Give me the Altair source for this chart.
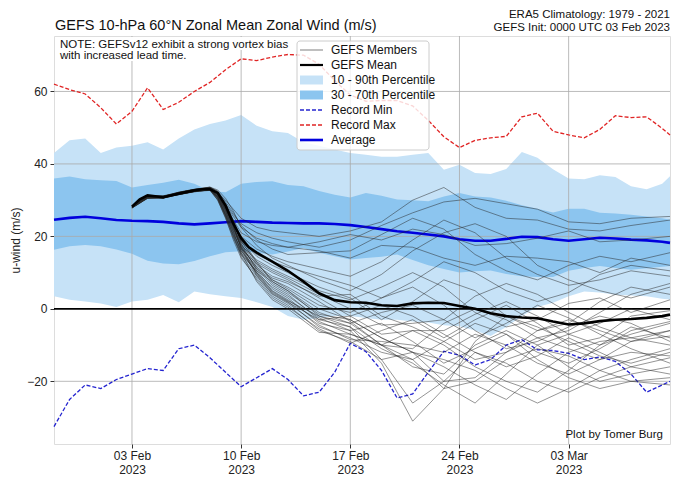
import altair as alt
import pandas as pd

FONT = "Liberation Sans, Arial, sans-serif"

# ---------------- climatology (daily, 29 Jan .. 09 Mar 12Z) ----------------
clim_dates = ([f"2023-01-{d:02d}T00:00:00" for d in range(29, 32)]
              + [f"2023-02-{d:02d}T00:00:00" for d in range(1, 29)]
              + [f"2023-03-{d:02d}T00:00:00" for d in range(1, 10)]
              + ["2023-03-09T12:00:00"])
p10 = [3.5, 2.5, 2.0, 1.5, 0.5, 2.0, 2.5, 3.8, 1.8, 4.8, 4.0, 3.5, 3.0, 1.8, 0.5,
       -2.0, -3.0, -2.5, -2.0, -2.0, -2.5, -3.0, -3.0, -3.5, -3.8, -4.5, -4.8, -6.0,
       -7.5, -5.0, -2.0, 0.5, 1.7, 3.5, 4.8, 4.5, 3.9, 3.7, 3.5, 2.8, 2.6]
p30 = [16.3, 17.3, 17.6, 17.3, 16.4, 15.2, 13.3, 12.5, 12.3, 13.2, 14.5, 15.6, 15.9,
       15.5, 15.0, 15.8, 16.8, 15.5, 14.5, 13.6, 14.0, 14.4, 15.0, 13.5, 12.0, 11.0,
       10.0, 10.4, 10.6, 9.6, 9.0, 8.8, 8.8, 10.5, 11.3, 11.8, 11.3, 10.8, 11.2, 11.6, 11.8]
p70 = [36.0, 36.5, 35.8, 35.5, 35.3, 33.5, 34.2, 34.8, 35.6, 34.5, 32.5, 32.2, 34.5,
       35.0, 35.2, 34.2, 33.8, 32.5, 31.5, 30.7, 32.0, 31.2, 30.2, 30.0, 29.7, 31.0,
       32.0, 31.0, 30.7, 29.8, 28.6, 27.6, 26.6, 27.6, 27.6, 26.5, 26.3, 26.0, 25.5, 25.0, 24.6]
p90 = [43.0, 46.5, 47.0, 43.0, 44.5, 45.0, 46.0, 44.0, 47.0, 49.5, 51.0, 52.0, 53.5,
       50.5, 49.0, 48.5, 46.0, 45.0, 44.0, 43.0, 42.5, 42.0, 42.0, 42.5, 43.0, 38.4,
       39.8, 37.5, 37.2, 38.6, 43.3, 41.7, 38.5, 36.0, 35.8, 36.9, 36.4, 33.8, 33.0, 34.5, 36.6]
avg = [24.6, 25.1, 25.4, 25.0, 24.5, 24.3, 24.2, 24.0, 23.6, 23.3, 23.6, 23.9, 24.2,
       24.0, 23.8, 23.7, 23.6, 23.6, 23.4, 23.1, 22.6, 22.0, 21.4, 21.0, 20.5, 20.0,
       19.2, 18.8, 18.8, 19.3, 19.9, 19.8, 19.2, 18.8, 19.2, 19.6, 19.4, 19.1, 18.9, 18.5, 18.2]
rmin = [-32.5, -25.0, -21.0, -22.0, -19.5, -18.0, -16.5, -17.0, -11.0, -10.0, -13.5,
        -17.5, -21.5, -19.0, -16.5, -19.5, -24.0, -23.0, -17.5, -9.5, -11.8, -17.0,
        -24.6, -23.5, -17.5, -11.7, -12.8, -15.5, -14.0, -10.0, -8.5, -11.3, -11.5,
        -12.3, -14.0, -13.3, -14.5, -18.0, -23.0, -21.0, -20.0]
rmax = [62.0, 60.5, 59.3, 55.5, 51.0, 54.5, 61.0, 55.0, 57.0, 60.0, 62.5, 66.0, 69.0,
        68.5, 69.5, 70.2, 70.0, 67.5, 63.0, 59.0, 57.3, 57.5, 57.5, 56.0, 52.0, 47.5,
        44.5, 46.5, 47.2, 47.6, 53.0, 54.0, 49.0, 48.0, 47.2, 49.5, 53.3, 52.8, 53.0, 49.8, 48.0]

# ---------------- GEFS mean ----------------
mean_dates = (["2023-02-03T00:00:00", "2023-02-03T12:00:00", "2023-02-04T00:00:00",
               "2023-02-05T00:00:00", "2023-02-06T00:00:00", "2023-02-07T00:00:00",
               "2023-02-07T12:00:00", "2023-02-08T00:00:00", "2023-02-08T12:00:00",
               "2023-02-09T00:00:00", "2023-02-09T12:00:00", "2023-02-10T00:00:00",
               "2023-02-10T12:00:00", "2023-02-11T00:00:00"]
              + [f"2023-02-{d:02d}T00:00:00" for d in range(12, 29)]
              + [f"2023-03-{d:02d}T00:00:00" for d in range(1, 10)]
              + ["2023-03-09T12:00:00"])
gefs_mean = [28.2, 30.2, 31.3, 30.8, 31.8, 32.7, 33.0, 33.0, 32.0, 28.5, 23.5, 19.5,
             17.0, 15.5, 13.0, 10.5, 7.5, 4.3, 2.4, 1.8, 1.7, 1.0, 0.8, 1.5, 1.7, 1.6,
             0.8, 0.0, -1.2, -2.0, -2.4, -2.6, -3.5, -4.3, -4.0, -3.4, -3.0, -2.8, -2.5,
             -2.0, -1.6]

# ---------------- GEFS members ----------------
member_dates = ["2023-02-03T00:00:00", "2023-02-04T00:00:00", "2023-02-05T00:00:00",
                "2023-02-06T00:00:00", "2023-02-07T00:00:00", "2023-02-08T00:00:00",
                "2023-02-08T12:00:00", "2023-02-09T00:00:00", "2023-02-09T12:00:00",
                "2023-02-10T00:00:00", "2023-02-11T00:00:00", "2023-02-12T00:00:00",
                "2023-02-13T00:00:00", "2023-02-15T00:00:00", "2023-02-17T00:00:00",
                "2023-02-19T00:00:00", "2023-02-21T00:00:00", "2023-02-23T00:00:00",
                "2023-02-25T00:00:00", "2023-02-27T00:00:00", "2023-03-01T00:00:00",
                "2023-03-03T00:00:00", "2023-03-05T00:00:00", "2023-03-07T00:00:00",
                "2023-03-09T12:00:00"]
members = [
    [28.0, 30.8, 31.0, 31.8, 32.5, 33.0, 32.0, 30.0, 27.5, 25.0, 22.5, 21.5, 21.0, 20.0, 21.5, 24.0, 30.0, 33.5, 28.0, 25.0, 24.5, 22.0, 21.5, 23.0, 24.5],
    [28.2, 31.0, 30.6, 32.0, 32.8, 33.4, 31.5, 29.0, 26.0, 23.5, 21.0, 19.5, 18.5, 17.0, 19.0, 23.0, 26.5, 29.5, 30.5, 29.0, 27.5, 24.0, 23.5, 25.0, 25.5],
    [27.8, 30.5, 30.9, 31.5, 32.4, 32.8, 31.0, 28.5, 25.5, 22.5, 19.5, 18.0, 17.0, 18.5, 20.5, 19.0, 22.0, 20.5, 17.5, 18.0, 19.5, 21.5, 18.5, 19.0, 20.0],
    [28.3, 31.2, 31.1, 32.2, 33.0, 33.5, 32.5, 29.5, 26.5, 23.0, 19.0, 16.5, 15.0, 15.5, 16.0, 20.5, 25.0, 22.0, 15.0, 10.5, 8.0, 12.0, 14.5, 13.0, 15.5],
    [28.1, 30.9, 30.7, 31.9, 32.6, 33.2, 31.8, 28.0, 24.5, 21.0, 18.5, 17.5, 17.0, 16.0, 14.0, 17.5, 17.0, 14.0, 12.0, 14.5, 14.0, 13.0, 10.0, 14.0, 12.0],
    [28.0, 30.6, 30.8, 31.7, 32.5, 33.1, 31.2, 27.5, 23.5, 20.0, 16.5, 14.5, 13.0, 11.0, 9.0, 13.0, 19.0, 24.5, 21.0, 14.0, 9.5, 6.5, 8.0, 10.5, 9.0],
    [28.4, 31.3, 31.2, 32.1, 32.9, 33.6, 32.8, 30.5, 27.0, 22.5, 17.5, 14.0, 12.0, 8.0, 5.0, 9.5, 16.0, 21.0, 23.5, 20.0, 12.0, 8.0, 5.0, 3.0, 6.0],
    [27.9, 30.7, 30.5, 31.6, 32.3, 32.9, 30.8, 26.5, 22.0, 18.5, 15.0, 13.0, 11.5, 9.0, 6.5, 3.0, 7.5, 13.0, 10.0, 5.0, 2.0, 4.5, 9.5, 12.0, 10.5],
    [28.2, 31.1, 30.8, 32.0, 32.7, 33.3, 31.6, 27.8, 23.2, 19.0, 14.5, 12.0, 10.0, 6.0, 3.0, -3.0, 2.0, 8.0, 5.0, -2.0, -6.0, -4.0, 2.0, 6.0, 4.0],
    [28.0, 30.8, 30.9, 31.8, 32.6, 33.0, 30.5, 26.0, 21.5, 17.5, 13.5, 11.0, 9.0, 5.0, 2.5, 6.0, 10.0, 6.0, -1.0, -5.0, -3.0, 1.5, 3.0, -1.0, 2.5],
    [28.3, 31.0, 30.6, 31.9, 32.8, 33.4, 32.0, 29.0, 24.0, 18.5, 13.0, 10.5, 8.5, 4.0, 0.0, -4.5, -4.0, -3.0, 3.5, 7.0, 4.0, -1.0, -5.0, -8.0, -6.0],
    [27.9, 30.6, 30.7, 31.6, 32.4, 32.8, 30.2, 25.5, 20.5, 16.5, 12.5, 10.0, 8.0, 3.0, -2.0, -7.0, -6.0, -6.0, -1.5, 2.0, -2.0, -7.0, -10.0, -7.0, -4.0],
    [28.1, 30.9, 31.0, 31.9, 32.6, 33.2, 31.4, 27.0, 22.5, 18.0, 12.0, 9.0, 7.5, 3.5, 4.0, -2.0, -5.0, -9.0, -14.0, -12.0, -6.0, -3.0, -6.0, -9.0, -7.5],
    [28.2, 31.2, 30.9, 32.1, 32.9, 33.5, 32.2, 28.5, 23.0, 17.0, 11.5, 8.5, 7.0, 2.0, -3.5, -10.0, -14.0, -9.0, -4.0, -7.0, -12.0, -15.0, -11.0, -6.0, -3.5],
    [28.0, 30.7, 30.8, 31.7, 32.5, 32.9, 30.6, 26.2, 21.0, 16.0, 11.0, 8.0, 6.0, 1.0, -1.0, 3.0, 6.0, 1.0, -6.0, -11.0, -9.0, -5.0, -2.0, -4.0, -9.0],
    [28.3, 31.1, 30.7, 32.0, 32.7, 33.3, 31.7, 28.2, 23.8, 18.8, 12.5, 8.0, 5.5, 0.0, -3.0, -8.0, -12.0, -20.0, -19.0, -12.0, -8.0, -11.0, -14.0, -12.0, -13.0],
    [27.8, 30.5, 30.6, 31.5, 32.3, 32.7, 30.0, 25.0, 19.5, 15.0, 10.5, 7.5, 5.0, -1.0, -4.0, -1.0, 1.0, -3.0, -8.0, -4.0, 1.0, -2.5, -7.0, -11.0, -15.0],
    [28.1, 30.9, 31.1, 31.9, 32.8, 33.4, 31.9, 28.8, 24.5, 19.5, 13.0, 7.5, 5.0, -2.0, -4.0, -10.0, -16.0, -18.0, -10.0, -6.0, -10.0, -16.0, -20.0, -18.0, -16.0],
    [28.0, 30.8, 30.8, 31.8, 32.5, 33.0, 31.0, 27.0, 22.0, 17.0, 11.5, 7.0, 4.5, -1.5, -3.0, -8.0, -12.0, -16.0, -21.0, -25.0, -18.0, -12.0, -9.0, -8.0, -10.0],
    [28.2, 31.0, 30.7, 32.0, 32.7, 33.2, 31.5, 27.5, 22.8, 17.5, 11.0, 6.5, 4.0, -3.0, -5.0, -14.0, -26.0, -20.0, -12.0, -15.0, -20.0, -23.0, -19.0, -16.0, -18.0],
    [27.9, 30.6, 30.9, 31.6, 32.4, 32.9, 30.4, 25.8, 20.0, 15.5, 10.0, 6.0, 3.5, -2.5, -6.0, -4.0, -9.0, -15.0, -11.0, -7.0, -14.0, -19.0, -22.0, -20.0, -21.0],
    [28.3, 31.2, 31.0, 32.2, 33.0, 33.6, 32.4, 29.0, 24.2, 18.0, 10.5, 5.5, 3.0, -4.0, -6.0, -15.0, -31.0, -22.0, -9.0, -2.0, -5.0, -9.0, -13.0, -15.0, -12.0],
    [28.0, 30.7, 30.6, 31.7, 32.6, 33.0, 30.8, 26.5, 21.2, 16.0, 10.0, 5.0, 2.5, -3.5, -7.0, -10.0, -6.0, -10.0, -16.0, -20.0, -23.0, -17.0, -10.0, -5.0, -8.0],
    [28.1, 31.0, 31.1, 31.9, 32.8, 33.3, 31.3, 27.2, 22.3, 16.8, 9.5, 4.5, 2.0, -5.0, -8.0, -12.0, -14.0, -22.0, -20.0, -14.0, -11.0, -13.0, -17.0, -20.0, -19.0],
    [28.2, 30.8, 30.8, 32.0, 32.6, 33.1, 30.9, 26.0, 20.5, 15.0, 9.0, 4.0, 1.5, -4.5, -8.5, -9.0, -10.0, -12.0, -7.0, -10.0, -15.0, -18.0, -14.0, -9.0, -6.0],
    [27.9, 30.6, 30.7, 31.6, 32.4, 32.8, 30.0, 25.2, 19.0, 14.0, 8.5, 3.5, 1.0, -6.0, -9.0, -14.0, -12.0, -14.0, -17.0, -22.0, -26.0, -22.0, -17.0, -14.0, -11.0],
    [28.0, 30.9, 30.9, 31.8, 32.7, 33.2, 31.6, 27.6, 22.6, 17.2, 9.8, 4.8, 2.2, -2.0, -5.0, -11.0, -15.0, -21.0, -26.0, -18.0, -10.0, -7.0, -4.0, 0.0, -3.0],
    [28.3, 31.1, 30.8, 32.1, 32.9, 33.5, 32.1, 28.0, 22.9, 16.5, 9.2, 4.2, 1.8, -3.0, -2.0, 1.0, -2.0, -7.0, -12.0, -16.0, -13.0, -8.0, -12.0, -16.0, -13.5],
    [28.1, 30.7, 30.6, 31.7, 32.5, 33.0, 30.7, 25.6, 20.0, 14.5, 8.0, 3.0, 0.5, -5.5, -9.5, -6.0, -3.0, -8.0, -3.0, 1.0, -4.0, -10.0, -8.0, -2.0, -0.5],
    [28.0, 30.8, 31.0, 31.9, 32.6, 33.1, 31.2, 27.0, 21.5, 15.5, 7.5, 2.5, 0.0, -6.5, -7.0, -10.0, -11.0, -4.0, 0.0, -3.0, -8.0, -6.0, -1.0, 4.0, 7.0],
]

x_ticks = ["2023-02-03", "2023-02-10", "2023-02-17", "2023-02-24", "2023-03-03"]
y_ticks = [-20, 0, 20, 40, 60]

legend_labels = ["GEFS Members", "GEFS Mean", "10 - 90th Percentile", "30 - 70th Percentile",
                 "Record Min", "Record Max", "Average"]

# ---------------- tables ----------------
clim = pd.DataFrame({"date": clim_dates, "p10": p10, "p30": p30, "p70": p70, "p90": p90,
                     "avg": avg, "rmin": rmin, "rmax": rmax})
mean_df = pd.DataFrame({"date": mean_dates, "u": gefs_mean})
mem_df = pd.DataFrame([{"m": i, "date": d, "u": v}
                       for i, vals in enumerate(members)
                       for d, v in zip(member_dates, vals)])
xgrid = pd.DataFrame({"date": [t + "T00:00:00" for t in x_ticks]})
ygrid = pd.DataFrame({"v": [t for t in y_ticks if t != 0]})
zero = pd.DataFrame({"v": [0]})

W, H = 616, 408

def dt(s):
    y, m, d = s.split("-")
    return alt.DateTime(year=int(y), month=int(m), date=int(d))

xs = alt.Scale(domain=[alt.DateTime(year=2023, month=1, date=29),
                       alt.DateTime(year=2023, month=3, date=9, hours=12)])
ys = alt.Scale(domain=[-37.3, 75.3], nice=False, zero=False)

xaxis = alt.Axis(values=[dt(t) for t in x_ticks],
                 labelExpr="[timeFormat(datum.value, '%d %b'), timeFormat(datum.value, '%Y')]",
                 title=None, grid=False, domain=False, tickSize=4, tickColor="#333",
                 labelFont=FONT, labelFontSize=12, labelColor="#222", labelPadding=2,
                 labelLineHeight=14, labelFlush=False, labelOverlap=False)
yaxis = alt.Axis(values=y_ticks, title="u-wind (m/s)", grid=False, domain=False,
                 tickSize=4, tickColor="#333", labelFont=FONT, labelFontSize=12,
                 labelColor="#222", labelPadding=3, titleFont=FONT, titleFontSize=12,
                 titleFontWeight="normal", titleColor="#222", titleX=-39, titleY=H / 2,
                 titleAngle=270, titleAlign="center", titleBaseline="middle")

X = alt.X("date:T", scale=xs, axis=xaxis)

def Y(field):
    return alt.Y(field, scale=ys, axis=yaxis)

LIGHT = "#c6e2f7"
DARK = "#8cc5ef"

band90 = alt.Chart(clim).mark_area(color=LIGHT, opacity=1).encode(x=X, y=Y("p10:Q"), y2="p90:Q")
band70 = alt.Chart(clim).mark_area(color=DARK, opacity=1).encode(x=X, y=Y("p30:Q"), y2="p70:Q")

gx = alt.Chart(xgrid).mark_rule(color="#aaaaaa", strokeWidth=1, opacity=0.8).encode(
    x=X, y=alt.value(0), y2=alt.value(H))
gy = alt.Chart(ygrid).mark_rule(color="#aaaaaa", strokeWidth=1, opacity=0.8).encode(
    y=Y("v:Q"), x=alt.value(0), x2=alt.value(W))
zline = alt.Chart(zero).mark_rule(color="black", strokeWidth=1.6).encode(
    y=Y("v:Q"), x=alt.value(0), x2=alt.value(W))

rmin_l = alt.Chart(clim).mark_line(color="#2424d0", strokeWidth=1.3, strokeDash=[4, 2]).encode(x=X, y=Y("rmin:Q"))
rmax_l = alt.Chart(clim).mark_line(color="#e02424", strokeWidth=1.3, strokeDash=[4, 2]).encode(x=X, y=Y("rmax:Q"))
avg_l = alt.Chart(clim).mark_line(color="#0000dd", strokeWidth=2.6).encode(x=X, y=Y("avg:Q"))

mem_l = alt.Chart(mem_df).mark_line(color="#262626", strokeWidth=0.7, opacity=0.7).encode(
    x=X, y=Y("u:Q"), detail="m:N")
mean_l = alt.Chart(mean_df).mark_line(color="black", strokeWidth=2.6).encode(x=X, y=Y("u:Q"))

one = pd.DataFrame({"a": [0]})

def txt(s, x, y, size, align="left", baseline="alphabetic", color="#111"):
    return alt.Chart(one).mark_text(text=s, align=align, baseline=baseline, font=FONT,
                                    fontSize=size, color=color).encode(
        x=alt.value(x), y=alt.value(y))

def box(x0, x1, y0, y1):
    return alt.Chart(one).mark_rect(color="white").encode(
        x=alt.value(x0), x2=alt.value(x1), y=alt.value(y0), y2=alt.value(y1))

title = txt("GEFS 10-hPa 60°N Zonal Mean Zonal Wind (m/s)", 1, -6, 14.5)
rt1 = txt("ERA5 Climatology: 1979 - 2021", W, -18, 11.5, align="right")
rt2 = txt("GEFS Init: 0000 UTC 03 Feb 2023", W, -5, 11.5, align="right")

note_bg1 = box(1, 232, 1, 14)
note_bg2 = box(1, 168, 14, 25)
note1 = txt("NOTE: GEFSv12 exhibit a strong vortex bias", 6, 11.5, 11.5)
note2 = txt("with increased lead time.", 6, 22.5, 11.5)
credit = txt("Plot by Tomer Burg", W - 7, 402, 11.5, align="right")

# legend
LX0, LX1, LT, LS = 246, 269, 14, 15
leg_box = alt.Chart(one).mark_rect(fill="white", fillOpacity=0.82, stroke="#cccccc",
                                   strokeWidth=1, cornerRadius=3).encode(
    x=alt.value(243), x2=alt.value(375), y=alt.value(5), y2=alt.value(114))

def leg_line(i, color, width, dash=None):
    kw = dict(color=color, strokeWidth=width)
    if dash:
        kw["strokeDash"] = dash
    return alt.Chart(one).mark_rule(**kw).encode(
        x=alt.value(LX0), x2=alt.value(LX1), y=alt.value(LT + LS * i))

def leg_patch(i, color):
    return alt.Chart(one).mark_rect(color=color).encode(
        x=alt.value(LX0), x2=alt.value(LX1), y=alt.value(LT + LS * i - 4.5),
        y2=alt.value(LT + LS * i + 4.5))

leg_df = pd.DataFrame({"label": legend_labels, "i": list(range(len(legend_labels)))})
leg_df["yy"] = LT + LS * leg_df["i"]
leg_text = alt.Chart(leg_df).mark_text(align="left", baseline="middle", font=FONT,
                                       fontSize=12, color="#111").encode(
    x=alt.value(277), y=alt.Y("yy:Q", scale=None), text="label:N")

legend = [leg_box,
          leg_line(0, "#aaaaaa", 1.5),
          leg_line(1, "black", 2.2),
          leg_patch(2, LIGHT),
          leg_patch(3, DARK),
          leg_line(4, "#2424d0", 1.5, [4, 2]),
          leg_line(5, "#e02424", 1.5, [4, 2]),
          leg_line(6, "#0000dd", 2.6),
          leg_text]

chart = alt.layer(
    band90, band70, gx, gy, zline, rmin_l, rmax_l, avg_l, mem_l, mean_l,
    note_bg1, note_bg2, note1, note2, credit, *legend, title, rt1, rt2
).properties(
    width=W, height=H,
    autosize=alt.AutoSizeParams(type="none"),
    padding={"left": 46, "top": 28, "right": 2, "bottom": 32},
).configure_view(stroke="#333333", strokeWidth=1.5).configure(background="white")

chart.save("out.html", embed_options={"renderer": "svg", "actions": False})
